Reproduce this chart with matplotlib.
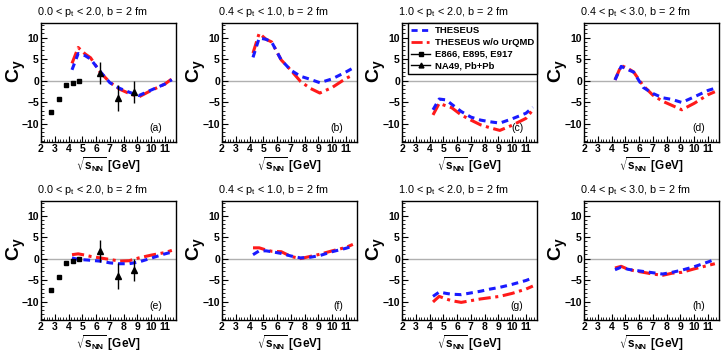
import matplotlib
matplotlib.use("Agg")
import matplotlib.pyplot as plt
from matplotlib.ticker import MultipleLocator
from matplotlib.lines import Line2D

plt.rcParams['font.family'] = ['Liberation Sans', 'DejaVu Sans']

# energies of the model curves (sqrt(s_NN) in GeV)
sqrt_s = [4.25, 4.7, 5.2, 5.6, 6.3, 7.0, 7.7, 8.4, 9.1, 10.0, 11.0, 11.5]

# THESEUS (blue) and THESEUS w/o UrQMD (red), panels a-h
theseus = {
    'a': [2.5, 6.3, 5.8, 5.0, 2.1, -0.5, -1.8, -2.7, -3.5, -2.2, -0.8, 0.2],
    'b': [5.4, 9.9, 9.6, 9.0, 4.8, 2.4, 1.0, 0.3, -0.5, 0.4, 2.0, 2.9],
    'c': [-6.8, -4.3, -4.5, -5.5, -7.2, -8.5, -9.2, -9.6, -9.9, -8.9, -7.6, -6.2],
    'd': [0.15, 3.3, 2.5, 2.0, -1.6, -3.0, -4.0, -4.4, -5.1, -3.8, -2.3, -1.8],
    'e': [0.15, -0.2, -0.3, -0.4, -0.6, -1.0, -1.2, -1.2, -0.8, 0.1, 1.1, 1.5],
    'f': [0.9, 1.8, 1.8, 1.6, 1.2, 0.6, 0.15, 0.3, 0.7, 1.6, 2.4, 2.9],
    'g': [-8.8, -7.8, -8.1, -8.3, -8.4, -8.0, -7.6, -7.1, -6.7, -6.0, -5.1, -4.5],
    'h': [-2.6, -2.0, -2.5, -2.7, -3.0, -3.3, -3.6, -3.2, -2.7, -1.9, -0.8, -0.2],
}
no_urqmd = {
    'a': [4.0, 7.7, 6.2, 5.3, 1.9, -0.4, -2.0, -3.0, -3.8, -2.3, -0.8, 0.4],
    'b': [6.4, 11.0, 9.6, 9.0, 4.8, 2.4, -0.2, -1.8, -2.9, -1.6, 0.5, 1.3],
    'c': [-8.0, -5.3, -5.9, -6.3, -8.0, -9.2, -10.3, -11.0, -11.6, -10.4, -8.8, -6.8],
    'd': [0.15, 3.5, 2.8, 2.0, -1.2, -3.4, -4.8, -5.8, -6.8, -5.3, -3.3, -2.6],
    'e': [0.9, 1.1, 0.8, 0.5, 0.15, -0.2, -0.6, -0.5, 0.15, 0.8, 1.4, 1.9],
    'f': [2.5, 2.5, 2.0, 1.7, 1.6, 0.5, 0.0, 0.5, 1.0, 1.8, 2.6, 3.3],
    'g': [-10.1, -8.8, -9.4, -9.8, -10.2, -9.8, -9.4, -9.1, -8.8, -8.1, -7.1, -6.4],
    'h': [-2.2, -1.8, -2.5, -2.8, -3.2, -3.6, -3.9, -3.4, -3.2, -2.4, -1.6, -1.2],
}

# AGS data (E866, E895, E917)
ags_x = [2.70, 3.32, 3.84, 4.29, 4.73]
ags_y = [-7.4, -4.4, -1.0, -0.5, -0.2]
ags_err = [0.2, 0.2, 0.5, 0.2, 0.2]

# NA49 Pb+Pb
na49_x = [6.27, 7.62, 8.77]
na49_y = [1.8, -4.0, -2.6]
na49_err = [2.5, 3.0, 2.6]

titles = ['0.0 < p$_\\mathregular{t}$ < 2.0, b = 2 fm',
          '0.4 < p$_\\mathregular{t}$ < 1.0, b = 2 fm',
          '1.0 < p$_\\mathregular{t}$ < 2.0, b = 2 fm',
          '0.4 < p$_\\mathregular{t}$ < 3.0, b = 2 fm'] * 2
panels = ['a', 'b', 'c', 'd', 'e', 'f', 'g', 'h']

W, H = 725, 357
fig = plt.figure(figsize=(W / 100, H / 100), dpi=100)

lefts = [41, 222, 402, 584]
tops = [23, 201]
aw, ah = 135, 119

blue_ls = (0, (2.2, 1.6))
red_ls = (0, (4, 1.5, 1, 1.5))

for i, p in enumerate(panels):
    row, col = divmod(i, 4)
    l, t = lefts[col], tops[row]
    ax = fig.add_axes([l / W, 1 - (t + ah) / H, aw / W, ah / H])
    ax.axhline(0, color='#b0b0b0', lw=1.0, zorder=1)
    ax.plot(sqrt_s, theseus[p], color='#1a1aff', lw=2.2, ls=blue_ls, zorder=3)
    ax.plot(sqrt_s, no_urqmd[p], color='#ff1a1a', lw=2.2, ls=red_ls, zorder=2)
    if col == 0:
        ax.errorbar(ags_x, ags_y, yerr=ags_err, fmt='s', color='black', ms=3.5,
                    elinewidth=1, capsize=0, zorder=4)
        ax.errorbar(na49_x, na49_y, yerr=na49_err, fmt='^', color='black', ms=4,
                    elinewidth=1, capsize=0, zorder=4)
    ax.set_xlim(2, 11.8)
    ax.set_ylim(-14.3, 13.4)
    ax.set_xticks(range(2, 12))
    ax.xaxis.set_minor_locator(MultipleLocator(0.2))
    ax.set_yticks([-10, -5, 0, 5, 10])
    ax.set_yticklabels(['\u221210', '\u22125', '0', '5', '10'])
    ax.yaxis.set_minor_locator(MultipleLocator(1))
    ax.tick_params(which='both', direction='in', top=False, right=False,
                   labelsize=7.5, pad=1.5)
    ax.tick_params(which='major', length=4, width=0.8)
    ax.tick_params(which='minor', length=2, width=0.6)
    for lab in ax.get_xticklabels() + ax.get_yticklabels():
        lab.set_fontweight('bold')
    for s in ax.spines.values():
        s.set_linewidth(1.0)
    ax.set_ylabel('C$_\\mathregular{y}$', fontsize=14, fontweight='bold')
    ax.yaxis.set_label_coords(-0.1, 0.6)
    ax.set_xlabel('$\\sqrt{\\mathregular{s_{NN}}}$ [GeV]', fontsize=8.5,
                  fontweight='bold', labelpad=1)
    ax.text(0.9, 0.12, '(%s)' % p, transform=ax.transAxes, ha='right',
            va='center', fontsize=7.5)
    fig.text((l - 4) / W, 1 - (t - 11) / H, titles[i], ha='left', va='center',
             fontsize=7.8)
    if p == 'c':
        handles = [
            Line2D([], [], color='#1a1aff', lw=2, ls=blue_ls),
            Line2D([], [], color='#ff1a1a', lw=2, ls=red_ls),
            Line2D([], [], color='black', lw=1, marker='s', ms=3),
            Line2D([], [], color='black', lw=1, marker='^', ms=3.5),
        ]
        leg = ax.legend(handles, ['THESEUS', 'THESEUS w/o UrQMD',
                                  'E866, E895, E917', 'NA49, Pb+Pb'],
                        loc='upper left',
                        bbox_to_anchor=(408 / W, 1 - 23 / H),
                        bbox_transform=fig.transFigure, borderaxespad=0,
                        prop={'weight': 'bold', 'size': 6.8}, fancybox=False,
                        edgecolor='black', framealpha=1, handlelength=2.0,
                        handletextpad=0.5, labelspacing=0.3, borderpad=0.35)
        leg.get_frame().set_linewidth(1.0)

fig.savefig('out.png', dpi=100)
